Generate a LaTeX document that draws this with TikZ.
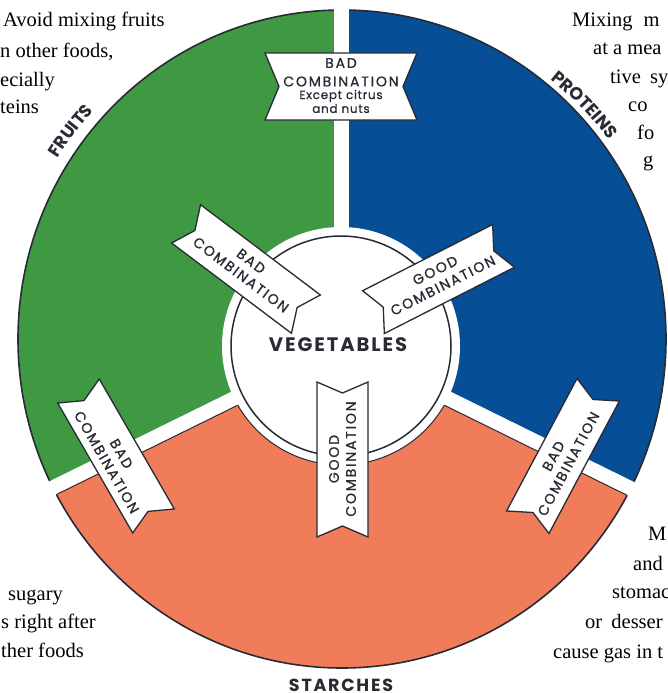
\documentclass[tikz,border=0pt]{standalone}
\usepackage{fontspec}
\setmainfont{Liberation Serif}
\newfontfamily\lab{Poppins}[LetterSpace=13,FakeBold=0.9]
\newfontfamily\labh{Poppins}[LetterSpace=6,FakeBold=0.7]
\newfontfamily\labb{Poppins}[LetterSpace=10]
\usetikzlibrary{decorations.text}
\definecolor{fruitgreen}{RGB}{63,153,66}
\definecolor{protblue}{RGB}{6,78,149}
\definecolor{starchorange}{RGB}{241,124,89}
\definecolor{inkgray}{RGB}{40,42,52}
\newcommand\ribbon[6]{%
  \begin{scope}[shift={(#1,#2)},rotate=#3]
    \draw[bannerbox] (-#4/2,-#5/2) -- (#4/2,-#5/2) -- (#4/2-#6,0) -- (#4/2,#5/2)
      -- (-#4/2,#5/2) -- (-#4/2+#6,0) -- cycle;
  \end{scope}}
\begin{document}
\begin{tikzpicture}[x=1pt,y=-1pt,
  bannerbox/.style={fill=white,draw=inkgray,line width=1.3pt,line join=miter},
  bantext/.style={font=\lab\fontsize{14}{17}\selectfont,text=inkgray,align=center,inner sep=0pt},
  smalltext/.style={font=\labh\fontsize{12}{13}\selectfont,text=inkgray,inner sep=0pt},
  body/.style={font=\fontsize{20.5}{24}\selectfont,anchor=base west,inner sep=0pt},
  bigl/.style={font=\labb\bfseries\fontsize{#1}{#1}\selectfont,text=inkgray,inner sep=0pt},
  gapline/.style={white,line width=15pt},
  edge/.style={inkgray,line width=1pt}]
\path[use as bounding box] (0,0) rectangle (667,693);
\clip (0,0) rectangle (667,693);
% sectors
\begin{scope}
  \clip (341,346) -- (341,-50) -- (-50,-50) -- (-50,538.7) -- cycle;
  \fill[fruitgreen] (342,339) ellipse [x radius=324, y radius=329];
\end{scope}
\begin{scope}
  \clip (341,346) -- (341,-50) -- (720,-50) -- (720,532.7) -- cycle;
  \fill[protblue] (342,339) ellipse [x radius=324, y radius=329];
\end{scope}
\begin{scope}
  \clip (341,346) -- (-50,538.7) -- (-50,750) -- (720,750) -- (720,532.7) -- cycle;
  \fill[starchorange] (342,339) ellipse [x radius=324, y radius=329];
\end{scope}
\draw[inkgray,line width=1.6pt] (342,339) ellipse [x radius=324, y radius=329];
% gaps
\draw[gapline] (341,346) -- (341,-50);
\draw[gapline] (341,346) -- (-50,538.7);
\draw[gapline] (341,346) -- (720,532.7);
\begin{scope}
  \clip (342,339) ellipse [x radius=324, y radius=329];
  \draw[edge] (341,354.3) -- (-287,663.8);
  \draw[edge] (341,354.3) -- (969,663.8);
\end{scope}
\fill[white] (341,346) circle [radius=119];
\begin{scope}
  \clip (341,354.3) -- (-287,663.8) -- (-287,900) -- (969,900) -- (969,663.8) -- cycle;
  \draw[edge] (341,346) circle [radius=119];
\end{scope}
\draw[inkgray,line width=1.5pt,fill=white] (341,346) circle [radius=110];
% ribbons
\ribbon{341}{86.5}{0}{152}{67}{14}
\ribbon{246}{269}{-37}{150}{48}{11}
\ribbon{438.5}{279}{27}{146}{48}{11}
\ribbon{342.5}{459.5}{90}{155}{51}{11}
\ribbon{116}{456}{-60}{150}{48}{11}
\ribbon{563}{456}{62}{150}{48}{11}
% ribbon texts
\node[bantext] (t1a) at (341,63) {BAD};
\node[bantext] (t1b) at (341,81.5) {COMBINATION};
\node[smalltext] (t1c) at (341,96) {Except citrus};
\node[smalltext] (t1d) at (341,108.5) {and nuts};
\node[bantext,rotate=-37] (t2) at (246,268) {BAD\\COMBINATION};
\node[bantext,rotate=27] (t3) at (439,278) {GOOD\\COMBINATION};
\node[bantext,rotate=90] (t4) at (342.5,459) {GOOD\\COMBINATION};
\node[bantext,rotate=-60] (t5) at (114,458) {BAD\\COMBINATION};
\node[bantext,rotate=62] (t6) at (561,460) {BAD\\COMBINATION};
% labels
\node[bigl=19.5] (veg) at (338,345) {VEGETABLES};
\node[bigl=17.5] (sta) at (341,685) {STARCHES};
\path[decorate,decoration={text along path,text align=center,
  text={|\labb\bfseries\fontsize{17.5}{17.5}\selectfont\color{inkgray}|FRUITS}}]
  (342,339) ++(195:337) arc [start angle=195, end angle=240, radius=337];
\path[decorate,decoration={text along path,text align=center,
  text={|\labb\bfseries\fontsize{17.5}{17.5}\selectfont\color{inkgray}|PROTEINS}}]
  (342,339) ++(292:333) arc [start angle=292, end angle=340, radius=333];
% body text
\node[body] (a1) at (3,27) {Avoid mixing fruits};
\node[body] (a2) at (0,57) {n other foods,};
\node[body] (a3) at (0,86) {ecially};
\node[body] (a4) at (0,113) {teins};
\node[body] (b1) at (572,27) {Mixing\hspace{6pt} m};
\node[body] (b2) at (593,55) {at a mea};
\node[body] (b3) at (610,83) {tive\hspace{4pt} sy};
\node[body] (b4) at (628,111) {co};
\node[body] (b5) at (637,139) {fo};
\node[body] (b6) at (643,166) {g};
\node[body] (c1) at (648,540) {M};
\node[body] (c2) at (633,570) {and};
\node[body] (c3) at (612,598) {stomac};
\node[body] (c4) at (585,628) {or\hspace{4pt} desser};
\node[body] (c5) at (553,658) {cause gas in t};
\node[body] (d1) at (8,600) {sugary};
\node[body] (d2) at (1,628) {s right after};
\node[body] (d3) at (1,657) {ther foods};
\end{tikzpicture}
\end{document}
